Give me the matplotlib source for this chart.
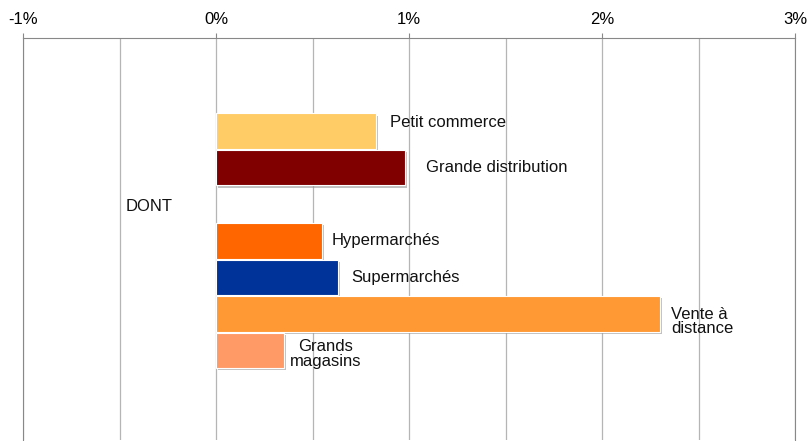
import matplotlib
matplotlib.use("Agg")
import matplotlib.pyplot as plt
import matplotlib.patheffects as pe
import numpy as np

plt.rcParams['font.family'] = ['Liberation Sans', 'DejaVu Sans']

categories = ["Petit commerce", "Grande distribution", "DONT", "Hypermarchés",
              "Supermarchés", "Vente à\ndistance", "Grands\nmagasins"]
values = [0.83, 0.98, None, 0.55, 0.63, 2.30, 0.35]
colors = ["#FFCC66", "#800000", None, "#FF6600", "#003399", "#FF9933", "#FF9966"]
label_x = [0.90, 1.09, -0.47, 0.60, 0.70, 2.36, 0.57]
label_y = [-0.25, 1.0, 2.05, 3.0, 4.0, 5.2, 6.1]
label_ha = ["left", "left", "left", "left", "left", "left", "center"]
label_ls = [1.0, 1.0, 1.0, 1.0, 1.0, 0.9, 1.05]
ticks = [-1, 0, 1, 2, 3]
tick_labels = ["-1%", "0%", "1%", "2%", "3%"]

fig = plt.figure(figsize=(8.08, 4.41), dpi=100)
ax = fig.add_axes([23/808, 1/441, (795-23)/808, (440-38)/441])

shadow = [pe.SimplePatchShadow(offset=(1.5, -1.5), shadow_rgbFace="#999999", alpha=0.6), pe.Normal()]
for i, (v, c) in enumerate(zip(values, colors)):
    if v is None:
        continue
    ax.barh(i, v, height=0.97, color=c, edgecolor="white", linewidth=0.8,
            path_effects=shadow, zorder=3)

for lab, lx, ly, ha, ls in zip(categories, label_x, label_y, label_ha, label_ls):
    ax.text(lx, ly, lab, ha=ha, va="center", fontsize=12, color="#111111",
            linespacing=ls, zorder=4)

ax.set_xlim(-1, 3)
ax.set_ylim(8.45, -2.55)
ax.set_xticks(ticks)
ax.set_xticklabels(tick_labels, fontsize=12)
ax.set_xticks(np.arange(-1, 3.01, 0.5), minor=True)
ax.xaxis.tick_top()
ax.tick_params(axis='x', which='major', direction='out', length=3.6, color="#888888", pad=4)
ax.tick_params(axis='x', which='minor', length=0)
ax.set_yticks([])
ax.grid(True, axis='x', which='both', color="#b5b5b5", linewidth=0.9, zorder=0)
ax.spines['bottom'].set_visible(False)
ax.spines['top'].set_color("#888888")
ax.spines['left'].set_color("#888888")
ax.spines['right'].set_color("#888888")
ax.set_axisbelow(True)

fig.savefig("out.png", dpi=100)
